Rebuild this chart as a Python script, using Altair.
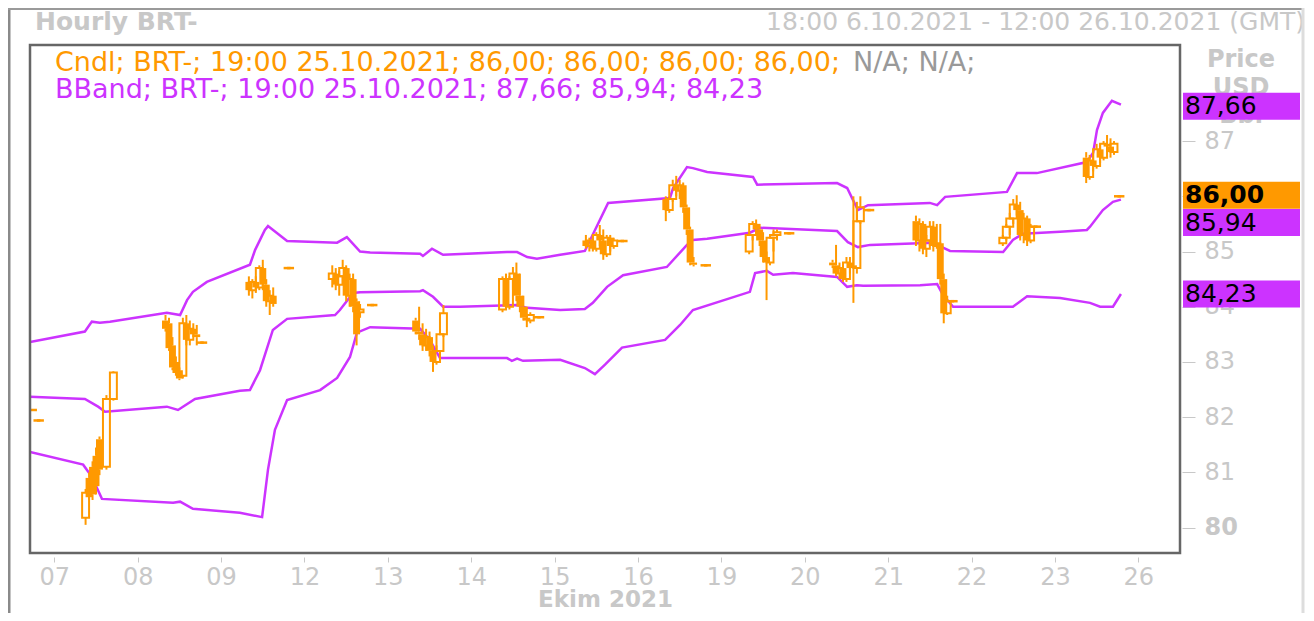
import altair as alt
import pandas as pd

FONT = "DejaVu Sans"
ORANGE = "#ff9900"
MAGENTA = "#cc33ff"
GREY = "#c8c8c8"
FRAME = "#666666"

# x = trading hours since 00:00 07.10.2021 (weekends removed)
day_labels = ["07", "08", "09", "12", "13", "14", "15", "16", "19", "20", "21", "22", "23", "26"]

# ---- hourly candles (t, open, high, low, close) ----
cndl_t = [-6, -5, -4,
          9, 10, 11, 12, 13, 15, 17,
          32, 33, 34, 35, 36, 37, 38, 39, 40, 41, 42, 43,
          56, 57, 58, 59, 60, 61, 62, 63, 67, 68,
          80, 81, 82, 83, 84, 85, 86, 87, 88, 91, 92,
          104, 105, 106, 107, 108, 109, 110, 111, 112,
          129, 130, 131, 132, 133, 134, 135, 136, 137, 139, 140,
          153, 154, 155, 156, 157, 158, 159, 160, 161, 163, 164,
          176, 177, 178, 179, 180, 181, 182, 183, 184, 187, 188,
          200, 201, 202, 203, 204, 205, 206, 207, 208, 211, 212,
          224, 225, 226, 227, 228, 229, 230, 231, 232, 234, 235,
          248, 249, 250, 251, 252, 253, 254, 255, 256, 257, 258, 259,
          273, 274, 275, 276, 277, 278, 279, 280, 281, 282, 283,
          297, 298, 299, 300, 301, 302, 303, 304, 305, 306, 307]
cndl_o = [82.13, 81.94, 81.94,
          80.18, 80.90, 81.10, 81.30, 81.60, 81.10, 82.33,
          83.75, 83.70, 83.30, 83.00, 82.85, 82.75, 83.70, 83.40, 83.60, 83.50, 83.35, 83.35,
          84.45, 84.30, 84.45, 84.35, 84.70, 84.40, 84.10, 84.20, 84.70, 84.70,
          84.50, 84.60, 84.40, 84.55, 84.70, 84.20, 84.50, 84.10, 83.90, 84.03, 84.03,
          83.75, 83.55, 83.50, 83.30, 83.45, 83.20, 83.00, 83.20, 83.50,
          83.95, 84.50, 84.00, 84.50, 84.60, 84.20, 84.00, 83.80, 83.75, 83.81, 83.81,
          85.20, 85.10, 85.20, 85.05, 85.30, 85.20, 84.95, 85.25, 85.10, 85.19, 85.19,
          85.95, 85.75, 85.95, 86.20, 86.10, 86.20, 85.80, 85.40, 84.80, 84.75, 84.75,
          85.00, 85.30, 85.50, 85.40, 85.20, 84.90, 84.80, 85.25, 85.30, 85.33, 85.33,
          84.80, 84.75, 84.60, 84.70, 84.50, 84.80, 84.75, 84.70, 85.55, 85.75, 85.75,
          85.55, 85.20, 85.50, 85.05, 85.20, 85.45, 85.10, 85.15, 84.50, 83.88, 84.10, 84.10,
          85.15, 85.25, 85.45, 85.60, 85.85, 85.75, 85.30, 85.60, 85.20, 85.45, 85.45,
          86.70, 86.35, 86.65, 86.55, 86.85, 86.70, 86.95, 86.90, 86.80, 86.00, 86.00]
cndl_h = [82.13, 81.94, 81.94,
          80.70, 81.00, 81.20, 81.45, 81.65, 82.40, 82.83,
          83.85, 83.80, 83.45, 83.10, 82.90, 83.80, 83.85, 83.75, 83.70, 83.67, 83.35, 83.35,
          84.55, 84.50, 84.55, 84.75, 84.85, 84.50, 84.30, 84.35, 84.70, 84.70,
          84.75, 84.70, 84.65, 84.85, 84.75, 84.60, 84.60, 84.15, 84.05, 84.03, 84.03,
          83.80, 84.00, 83.70, 83.60, 83.55, 83.30, 83.30, 83.60, 84.03,
          84.55, 84.60, 84.55, 84.72, 84.80, 84.60, 84.20, 84.00, 83.90, 83.81, 83.81,
          85.30, 85.25, 85.30, 85.35, 85.48, 85.40, 85.30, 85.30, 85.25, 85.19, 85.19,
          86.00, 86.00, 86.30, 86.37, 86.30, 86.25, 85.85, 85.45, 84.90, 84.75, 84.75,
          85.35, 85.55, 85.58, 85.50, 85.35, 85.00, 85.30, 85.40, 85.40, 85.33, 85.33,
          84.85, 85.12, 84.80, 84.80, 84.90, 84.90, 86.00, 85.90, 86.00, 85.75, 85.75,
          85.65, 85.60, 85.55, 85.30, 85.55, 85.55, 85.50, 85.50, 84.60, 84.20, 84.10, 84.10,
          85.30, 85.50, 85.70, 85.95, 86.02, 85.90, 85.70, 85.65, 85.50, 85.45, 85.45,
          86.80, 86.75, 86.85, 86.95, 86.95, 87.00, 87.11, 87.05, 87.00, 86.00, 86.00]
cndl_l = [82.13, 81.94, 81.94,
          80.05, 80.50, 80.50, 80.60, 80.95, 81.05, 82.30,
          83.55, 83.20, 82.85, 82.75, 82.67, 82.70, 83.30, 83.30, 83.45, 83.30, 83.35, 83.35,
          84.20, 84.15, 84.25, 84.30, 84.30, 84.00, 83.85, 84.00, 84.70, 84.70,
          84.35, 84.30, 84.20, 84.40, 84.10, 84.00, 83.90, 83.30, 83.80, 84.03, 84.03,
          83.50, 83.40, 83.20, 83.20, 83.10, 82.82, 82.95, 83.10, 83.45,
          83.90, 83.95, 83.95, 84.30, 84.10, 83.90, 83.75, 83.63, 83.70, 83.81, 83.81,
          85.05, 85.00, 85.00, 85.00, 85.10, 84.85, 84.90, 85.00, 85.05, 85.19, 85.19,
          85.55, 85.70, 85.90, 86.00, 85.95, 85.70, 85.30, 84.75, 84.73, 84.75, 84.75,
          84.95, 85.20, 85.30, 85.10, 84.80, 84.12, 84.75, 85.00, 85.20, 85.33, 85.33,
          84.70, 84.55, 84.50, 84.45, 84.45, 84.60, 84.07, 84.60, 85.50, 85.75, 85.75,
          85.10, 85.00, 84.95, 84.90, 85.10, 85.00, 85.05, 84.40, 83.70, 83.85, 84.10, 84.10,
          85.10, 85.20, 85.30, 85.50, 85.65, 85.20, 85.15, 85.10, 85.15, 85.45, 85.45,
          86.24, 86.30, 86.45, 86.50, 86.60, 86.65, 86.80, 86.70, 86.75, 86.00, 86.00]
cndl_c = [82.13, 81.94, 81.94,
          80.63, 80.55, 80.60, 80.75, 81.05, 82.33, 82.81,
          83.60, 83.25, 82.90, 82.80, 82.70, 83.70, 83.40, 83.60, 83.50, 83.45, 83.35, 83.35,
          84.30, 84.45, 84.35, 84.70, 84.40, 84.10, 84.20, 84.05, 84.70, 84.70,
          84.60, 84.40, 84.55, 84.70, 84.20, 84.50, 84.00, 83.50, 83.95, 84.03, 84.03,
          83.55, 83.50, 83.30, 83.45, 83.20, 83.00, 83.20, 83.50, 83.88,
          84.50, 84.00, 84.50, 84.60, 84.20, 84.00, 83.80, 83.75, 83.85, 83.81, 83.81,
          85.10, 85.20, 85.05, 85.30, 85.20, 84.95, 85.25, 85.10, 85.20, 85.19, 85.19,
          85.75, 85.95, 86.20, 86.10, 86.20, 85.80, 85.40, 84.80, 84.76, 84.75, 84.75,
          85.30, 85.50, 85.40, 85.20, 84.90, 84.80, 85.25, 85.30, 85.35, 85.33, 85.33,
          84.75, 84.60, 84.70, 84.50, 84.80, 84.70, 84.70, 85.55, 85.80, 85.75, 85.75,
          85.20, 85.50, 85.05, 85.20, 85.45, 85.10, 85.15, 84.50, 83.88, 84.10, 84.10, 84.10,
          85.25, 85.45, 85.60, 85.85, 85.75, 85.30, 85.60, 85.20, 85.45, 85.45, 85.45,
          86.35, 86.65, 86.55, 86.85, 86.70, 86.95, 86.90, 86.80, 86.95, 86.00, 86.00]

# ---- Bollinger bands ----
upper_t = [-7, 8.8, 10.8, 13.1, 16.0, 32.4, 36.2, 38.2, 39.9, 43.9, 56.3, 57.8, 60.6, 61.5, 67.0,
           81.4, 84.2, 88.0, 90.9, 105.3, 106.1, 108.7, 111.9, 130.3, 133.2, 136.1, 138.9, 145.6,
           152.7, 159.4, 177.2, 178.1, 182.1, 183.8, 187.9, 201.1, 202.3, 225.3, 228.2, 229.9,
           231.3, 234.2, 252.0, 254.1, 256.4, 274.2, 277.1, 282.8, 297.2, 299.0, 300.1, 301.8,
           304.4, 307]
upper_p = [83.36, 83.55, 83.73, 83.71, 83.73, 83.89, 83.85, 84.12, 84.27, 84.45, 84.76, 85.03, 85.39,
           85.46, 85.19, 85.16, 85.26, 85.00, 84.98, 84.96, 84.92, 85.05, 84.94, 84.99, 84.99, 84.90,
           84.87, 84.94, 85.01, 85.88, 85.97, 86.15, 86.53, 86.51, 86.44, 86.35, 86.21, 86.24, 86.15,
           85.93, 85.75, 85.84, 85.88, 85.84, 85.99, 86.08, 86.42, 86.42, 86.62, 86.79, 87.20, 87.51,
           87.73, 87.66]
middle_t = [-7, 8.8, 12.6, 14.6, 32.4, 35.6, 40.5, 53.4, 56.3, 59.2, 62.9, 67.0, 80.8, 82.2, 86.0,
            88.0, 105.3, 106.1, 109.0, 111.9, 116.8, 133.2, 136.1, 145.6, 152.7, 155.0, 159.1, 163.7,
            176.3, 182.1, 183.8, 187.9, 200.2, 203.1, 225.3, 228.4, 231.3, 234.8, 252.9, 255.8, 257.8,
            273.1, 275.9, 278.8, 289.5, 297.2, 298.1, 301.8, 304.7, 307]
middle_p = [82.37, 82.33, 82.19, 82.10, 82.19, 82.13, 82.33, 82.48, 82.49, 82.85, 83.58, 83.78, 83.85,
            83.94, 84.25, 84.26, 84.28, 84.30, 84.18, 84.00, 84.00, 84.03, 83.98, 83.94, 83.96, 84.07,
            84.36, 84.57, 84.72, 85.12, 85.21, 85.23, 85.34, 85.43, 85.37, 85.17, 85.08, 85.12, 85.16,
            85.07, 85.01, 84.99, 85.21, 85.32, 85.36, 85.39, 85.45, 85.75, 85.90, 85.94]
lower_t = [-7, 8.3, 10.8, 13.7, 34.2, 36.2, 39.9, 53.4, 59.8, 61.5, 63.5, 67.0, 76.5, 81.4, 85.1, 87.1,
           90.9, 105.3, 108.1, 111.0, 130.3, 131.7, 133.2, 134.9, 145.6, 152.7, 155.6, 158.5, 163.4,
           175.8, 180.1, 183.8, 200.2, 201.7, 205.1, 206.9, 212.6, 225.3, 228.2, 231.0, 232.8, 249.2,
           254.1, 255.8, 258.7, 275.9, 280.0, 289.5, 298.1, 301.0, 304.7, 307]
lower_p = [81.37, 81.14, 80.92, 80.52, 80.45, 80.47, 80.34, 80.27, 80.19, 81.05, 81.77, 82.31, 82.49,
           82.71, 83.09, 83.53, 83.63, 83.60, 83.40, 83.07, 83.07, 83.02, 83.06, 83.02, 83.04, 82.89,
           82.78, 82.95, 83.26, 83.40, 83.67, 83.94, 84.27, 84.61, 84.65, 84.58, 84.61, 84.54, 84.36,
           84.39, 84.38, 84.39, 84.41, 84.21, 84.00, 84.00, 84.19, 84.16, 84.07, 84.00, 84.00, 84.23]

y_ticks = [80, 81, 82, 83, 84, 85, 86, 87]
last_time = "19:00 25.10.2021"

# ---------------------------------------------------------------------------
W, H = 1150, 508
X_DOMAIN = [-7, 324]
Y_DOMAIN = [79.54, 88.74]


def fmt(v):
    return f"{v:.2f}".replace(".", ",")


label_expr = "[" + ",".join(f"'{d}'" for d in day_labels) + "][round(datum.value / 24)]"
x_axis = alt.Axis(values=[24 * i for i in range(len(day_labels))], labelExpr=label_expr,
                  title="Ekim 2021", domain=False, grid=False, tickColor=GREY, tickSize=5,
                  offset=4, labelPadding=3, labelColor=GREY, labelFontSize=24, labelFont=FONT,
                  labelFlush=False, labelOverlap=False, titleFont=FONT, titleFontSize=23,
                  titleFontWeight="bold", titleColor=GREY, titleY=42, titleBaseline="middle")
y_axis = alt.Axis(orient="right", values=y_ticks, title=None, domain=False, grid=False,
                  tickColor=GREY, tickSize=13, offset=2, labelPadding=9, labelColor=GREY,
                  labelFontSize=24, labelFont=FONT, labelFlush=False, labelOverlap=False,
                  labelFontWeight={"condition": {"test": "datum.value == 80", "value": "bold"},
                                   "value": "normal"})
x_scale = alt.Scale(domain=X_DOMAIN, nice=False, zero=False)
y_scale = alt.Scale(domain=Y_DOMAIN, nice=False, zero=False)


def xenc(f):
    return alt.X(f, type="quantitative", scale=x_scale, axis=x_axis)


def yenc(f):
    return alt.Y(f, type="quantitative", scale=y_scale, axis=y_axis)


cdf = pd.DataFrame(dict(t=cndl_t, o=cndl_o, h=cndl_h, l=cndl_l, c=cndl_c))
cbase = alt.Chart(cdf).transform_calculate(
    top="max(datum.o, datum.c)", bot="min(datum.o, datum.c)",
    xa="datum.t - 1.0", xb="datum.t + 1.0")

wick_hi = cbase.transform_filter("datum.h > datum.top").mark_rule(
    color=ORANGE, strokeWidth=2, clip=True).encode(x=xenc("t"), y=yenc("h"), y2="top:Q")
wick_lo = cbase.transform_filter("datum.l < datum.bot").mark_rule(
    color=ORANGE, strokeWidth=2, clip=True).encode(x=xenc("t"), y=yenc("bot"), y2="l:Q")
body_dn = cbase.transform_filter("datum.c < datum.o").mark_rect(
    fill=ORANGE, clip=True).encode(x=xenc("xa"), x2="xb:Q", y=yenc("o"), y2="c:Q")
body_up = cbase.transform_filter("datum.c > datum.o").mark_rect(
    fill=ORANGE, fillOpacity=0, stroke=ORANGE, strokeWidth=2, clip=True).encode(
    x=xenc("xa"), x2="xb:Q", y=yenc("c"), y2="o:Q")
flat = cbase.transform_filter("datum.c == datum.o").mark_rule(
    color=ORANGE, strokeWidth=2.5, clip=True).encode(x=xenc("xa"), x2="xb:Q", y=yenc("c"))

bands = pd.concat([
    pd.DataFrame(dict(band="upper", t=upper_t, p=upper_p)),
    pd.DataFrame(dict(band="middle", t=middle_t, p=middle_p)),
    pd.DataFrame(dict(band="lower", t=lower_t, p=lower_p)),
])
band_lines = alt.Chart(bands).mark_line(color=MAGENTA, strokeWidth=2.5, clip=True).encode(
    x=xenc("t"), y=yenc("p"), detail="band:N", order="t:Q")

one = pd.DataFrame({"a": [0]})


def txt(s, x, y, color, size=24, weight="normal", align="left"):
    return alt.Chart(one).mark_text(text=s, align=align, baseline="middle", font=FONT,
                                    fontSize=size, fontWeight=weight, color=color).encode(
        x=alt.value(x), y=alt.value(y))


def rule(x, y, x2=None, y2=None, color="#999", w=2):
    enc = dict(x=alt.value(x), y=alt.value(y))
    if x2 is not None:
        enc["x2"] = alt.value(x2)
    if y2 is not None:
        enc["y2"] = alt.value(y2)
    return alt.Chart(one).mark_rule(color=color, strokeWidth=w).encode(**enc)


legend1 = f"Cndl; BRT-; {last_time}; {fmt(cndl_o[-1])}; {fmt(cndl_h[-1])}; {fmt(cndl_l[-1])}; {fmt(cndl_c[-1])};"
legend2 = f"BBand; BRT-; {last_time}; {fmt(upper_p[-1])}; {fmt(middle_p[-1])}; {fmt(lower_p[-1])}"

texts = [
    txt("Hourly BRT-", 5, -23, GREY, 25, "bold"),
    txt("18:00 6.10.2021 - 12:00 26.10.2021 (GMT)", 1275, -23, GREY, 25, align="right"),
    txt(legend1, 25, 18, ORANGE, 27),
    txt("N/A; N/A;", 823, 18, "#999999", 27),
    txt(legend2, 25, 45, MAGENTA, 27),
    txt("Price", 1211, 15, GREY, 24, "bold", "center"),
    txt("USD", 1211, 43, GREY, 24, "bold", "center"),
    txt("Bbl", 1211, 71, GREY, 24, "bold", "center"),
]

plot_border = alt.Chart(one).mark_rect(fillOpacity=0, stroke=FRAME, strokeWidth=2.5).encode(
    x=alt.value(0), x2=alt.value(W), y=alt.value(0), y2=alt.value(H))

frame = [
    rule(-21, -37, y2=575, color="#8a8a8a", w=3),
    rule(-22, -36, x2=1274, color="#9a9a9a", w=2),
    rule(1273, -37, y2=575, color="#dddddd", w=3),
]

# value boxes at the right edge
box_vals = [upper_p[-1], cndl_c[-1], middle_p[-1], lower_p[-1]]
box_cols = [MAGENTA, ORANGE, MAGENTA, MAGENTA]
box_bold = ["normal", "bold", "normal", "normal"]
box_shift = [1.6, -1, 23, 0]
half = 13.5 * (Y_DOMAIN[1] - Y_DOMAIN[0]) / H
boxes = []
for v, col, wt, sh in zip(box_vals, box_cols, box_bold, box_shift):
    bd = pd.DataFrame({"v": [v], "lab": [fmt(v)]})
    b = alt.Chart(bd).transform_calculate(y1=f"datum.v + {half}", y2=f"datum.v - {half}")
    boxes.append(b.mark_rect(fill=col, yOffset=sh, y2Offset=sh).encode(
        x=alt.value(1153), x2=alt.value(1270), y=yenc("y1"), y2="y2:Q"))
    boxes.append(b.mark_text(align="left", baseline="middle", font=FONT, fontSize=25,
                             fontWeight=wt, color="black", dy=sh).encode(
        x=alt.value(1155), y=yenc("v"), text="lab:N"))

chart = alt.layer(
    band_lines, wick_hi, wick_lo, body_dn, body_up, flat, plot_border, *texts, *frame, *boxes
).properties(
    width=W, height=H,
    padding={"left": 22, "top": 37, "right": 126, "bottom": 60},
    autosize=alt.AutoSizeParams(type="none"),
).configure(background="white").configure_view(strokeWidth=0)

chart.save("out.html", embed_options={"renderer": "svg", "actions": False})
